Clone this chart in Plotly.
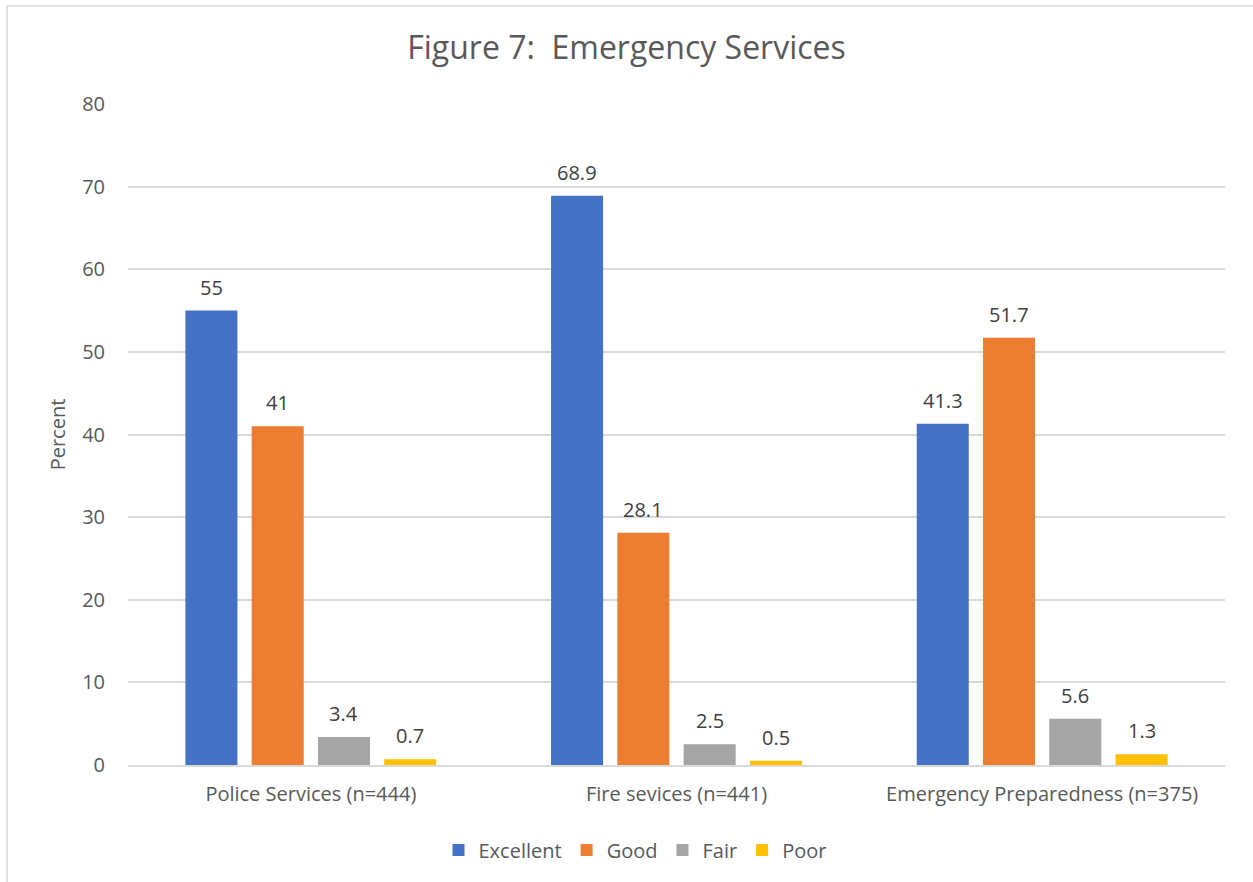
import plotly.graph_objects as go

# Survey ratings of emergency services, in percent
categories = ["Police Services (n=444)", "Fire sevices (n=441)", "Emergency Preparedness (n=375)"]
excellent = [55, 68.9, 41.3]
good = [41, 28.1, 51.7]
fair = [3.4, 2.5, 5.6]
poor = [0.7, 0.5, 1.3]

series = [
    ("Excellent", excellent, "#4472C4"),
    ("Good", good, "#ED7D31"),
    ("Fair", fair, "#A5A5A5"),
    ("Poor", poor, "#FFC000"),
]

FONT = "'Open Sans', sans-serif"

W, H = 1253, 882
ml, mr, mt, mb = 128, 28, 104, 117
pw, ph = W - ml - mr, H - mt - mb
BARGAP, BARGROUPGAP = 0.275, 0.215


def px_x(p):
    return (p - ml) / pw


def px_y(p):
    return (H - mb - p) / ph


fig = go.Figure()
for name, vals, color in series:
    fig.add_trace(go.Bar(
        name=name,
        x=categories,
        y=vals,
        marker=dict(color=color, line=dict(width=0)),
    ))

# Value labels sit a little above each bar, shifted to that bar's slot in the group
cat_px = pw / len(categories)
slot_px = cat_px * (1 - BARGAP) / len(series)
annotations = []
for i, (name, vals, color) in enumerate(series):
    shift = (i - (len(series) - 1) / 2) * slot_px
    for c, v in zip(categories, vals):
        annotations.append(dict(
            x=c, y=v, xref="x", yref="y",
            text=f"{v:g}",
            showarrow=False,
            xanchor="center", yanchor="bottom",
            xshift=shift, yshift=8,
            font=dict(family=FONT, size=20, color="#404040"),
        ))

fig.update_layout(
    width=W,
    height=H,
    margin=dict(l=ml, r=mr, t=mt, b=mb),
    paper_bgcolor="white",
    plot_bgcolor="white",
    barmode="group",
    bargap=BARGAP,
    bargroupgap=BARGROUPGAP,
    title=dict(
        text="Figure 7:  Emergency Services",
        x=0.5,
        xanchor="center",
        y=1 - 48 / H,
        yanchor="middle",
        font=dict(family=FONT, size=32, color="#595959"),
    ),
    font=dict(family=FONT, color="#595959"),
    legend=dict(
        orientation="h",
        x=px_x(635),
        xanchor="center",
        y=px_y(850),
        yanchor="middle",
        font=dict(family=FONT, size=20, color="#595959"),
        traceorder="normal",
        itemwidth=30,
    ),
    xaxis=dict(
        showgrid=False,
        showline=True,
        linecolor="#d9d9d9",
        linewidth=1.5,
        ticks="",
        ticklabelstandoff=10,
        tickfont=dict(family=FONT, size=20, color="#595959"),
    ),
    yaxis=dict(
        range=[0, 80],
        dtick=10,
        showgrid=True,
        gridcolor="#d9d9d9",
        gridwidth=1.5,
        zeroline=False,
        ticks="",
        ticklabelstandoff=22,
        tickfont=dict(family=FONT, size=20, color="#595959"),
        title=dict(text="Percent", font=dict(family=FONT, size=20, color="#595959"), standoff=11),
    ),
    annotations=annotations,
    shapes=[
        dict(
            type="rect",
            xref="paper", yref="paper",
            x0=px_x(7), x1=px_x(1270),
            y0=px_y(900), y1=px_y(6),
            line=dict(color="#d9d9d9", width=1.5),
            fillcolor="rgba(0,0,0,0)",
            layer="below",
        )
    ],
)

fig.write_html("out.html")
